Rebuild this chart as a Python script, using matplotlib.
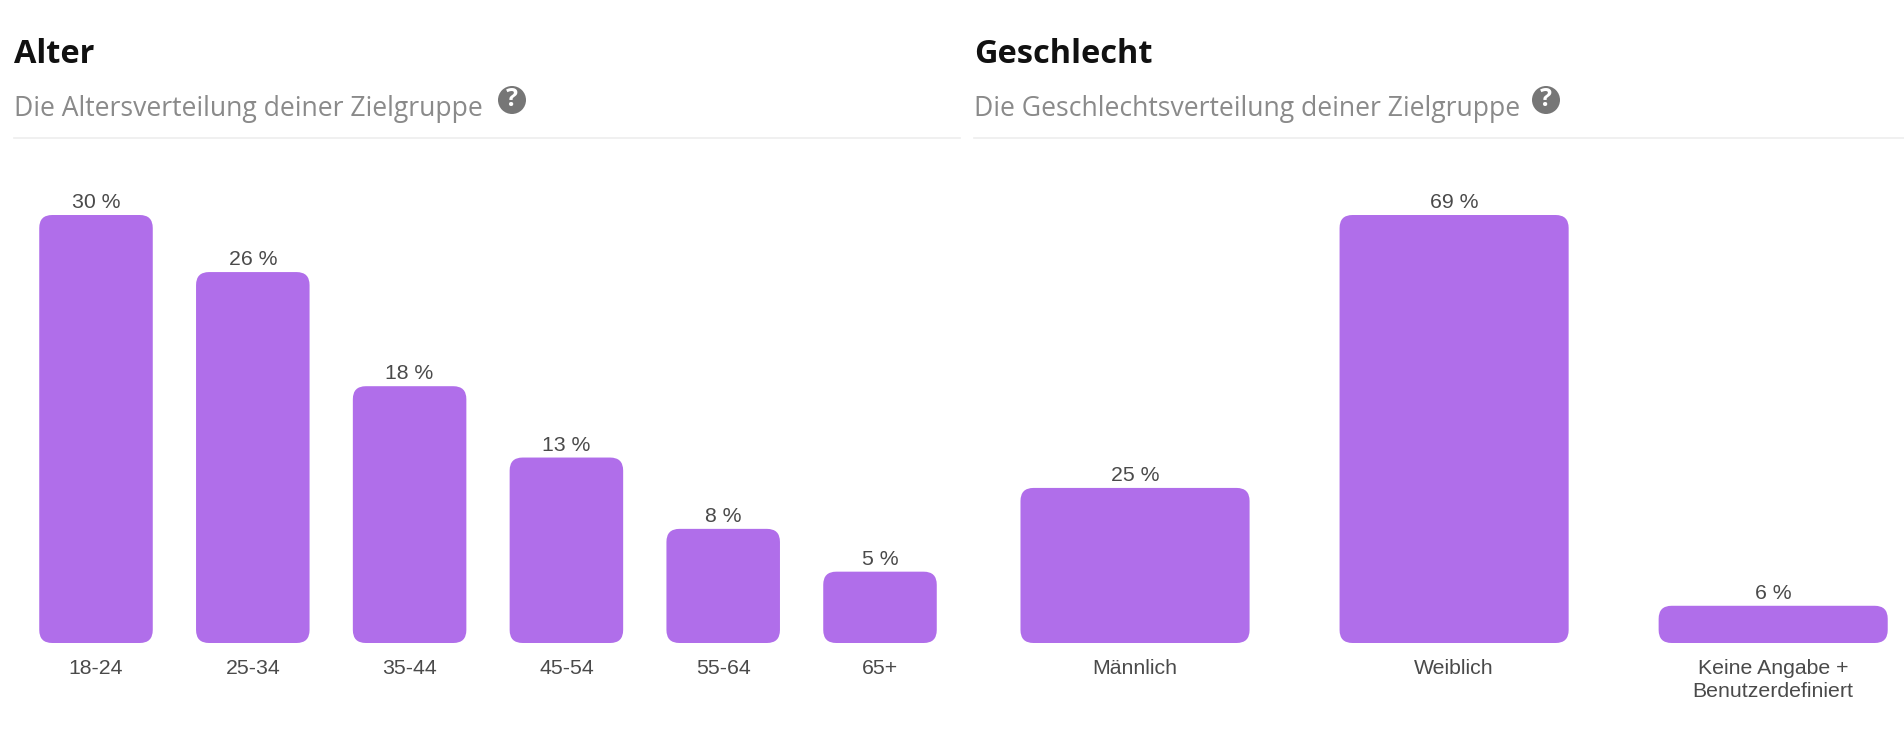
import matplotlib
matplotlib.use("Agg")
import matplotlib.pyplot as plt
from matplotlib.lines import Line2D
from matplotlib.patches import Circle, FancyBboxPatch

WIDTH = 1904
HEIGHT = 736
BAR_COLOR = "#b06eea"
LABEL_COLOR = "#4a4a4a"

age_groups = ["18-24", "25-34", "35-44", "45-54", "55-64", "65+"]
age_values = [30, 26, 18, 13, 8, 5]
gender_groups = ["Männlich", "Weiblich", "Keine Angabe +\nBenutzerdefiniert"]
gender_values = [25, 69, 6]


def draw_bars(fig, left, right, cats, values, xlim, bar_width):
    top, bottom = 215, 643
    ax = fig.add_axes([left / WIDTH, 1 - bottom / HEIGHT, (right - left) / WIDTH, (bottom - top) / HEIGHT])
    ax.set_xlim(*xlim)
    ax.set_ylim(0, max(values))
    for s in ax.spines.values():
        s.set_visible(False)
    ax.yaxis.set_visible(False)
    ax.set_xticks(range(len(cats)))
    ax.set_xticklabels(cats, fontsize=15.3, color=LABEL_COLOR, family="Liberation Sans", linespacing=1.28)
    ax.tick_params(axis="x", length=0, pad=11.5)

    # rounded corners need the same radius in pixels on both axes
    x_per_px = (xlim[1] - xlim[0]) / (right - left)
    y_per_px = max(values) / (bottom - top)
    radius = 13 * x_per_px
    for i, v in enumerate(values):
        ax.add_patch(FancyBboxPatch((i - bar_width / 2, 0), bar_width, v,
                                    boxstyle=f"round,pad=0,rounding_size={radius}",
                                    mutation_aspect=y_per_px / x_per_px,
                                    fc=BAR_COLOR, ec="none", clip_on=False))
        ax.annotate(f"{v} %", (i, v), xytext=(0, 2), textcoords="offset points", ha="center", va="bottom",
                    fontsize=15.3, color=LABEL_COLOR, family="Liberation Sans")
    return ax


def draw_header(fig, x, line_end, title, subtitle, icon_x):
    fig.text(x / WIDTH, 1 - 63 / HEIGHT, title, fontsize=23.4, fontweight="bold", color="#111111",
             family="Open Sans", va="baseline")
    fig.text(x / WIDTH, 1 - 116 / HEIGHT, subtitle, fontsize=19.1, color="#8a8a8a",
             family="Open Sans", va="baseline")
    fig.add_artist(Line2D([x / WIDTH, line_end / WIDTH], [1 - 137.5 / HEIGHT] * 2, color="#ededed", lw=1.2))
    fig.add_artist(Circle((icon_x / 100, (HEIGHT - 100) / 100), 0.14, transform=fig.dpi_scale_trans,
                          fc="#767676", ec="none"))
    fig.text(icon_x / WIDTH, 1 - 100 / HEIGHT, "?", fontsize=18, fontweight="bold", color="white",
             family="Open Sans", ha="center", va="center")


def main():
    fig = plt.figure(figsize=(WIDTH / 100, HEIGHT / 100), dpi=100, facecolor="white")

    draw_header(fig, 14, 960, "Alter", "Die Altersverteilung deiner Zielgruppe", 512)
    draw_header(fig, 974, WIDTH, "Geschlecht", "Die Geschlechtsverteilung deiner Zielgruppe", 1546)

    draw_bars(fig, 17.6, 958.4, age_groups, age_values, (-0.5, 5.5), 0.724)
    draw_bars(fig, 975.5, 1904, gender_groups, gender_values, (-0.5, 2.41), 0.718)

    fig.savefig("out.png", dpi=100)


if __name__ == "__main__":
    main()
